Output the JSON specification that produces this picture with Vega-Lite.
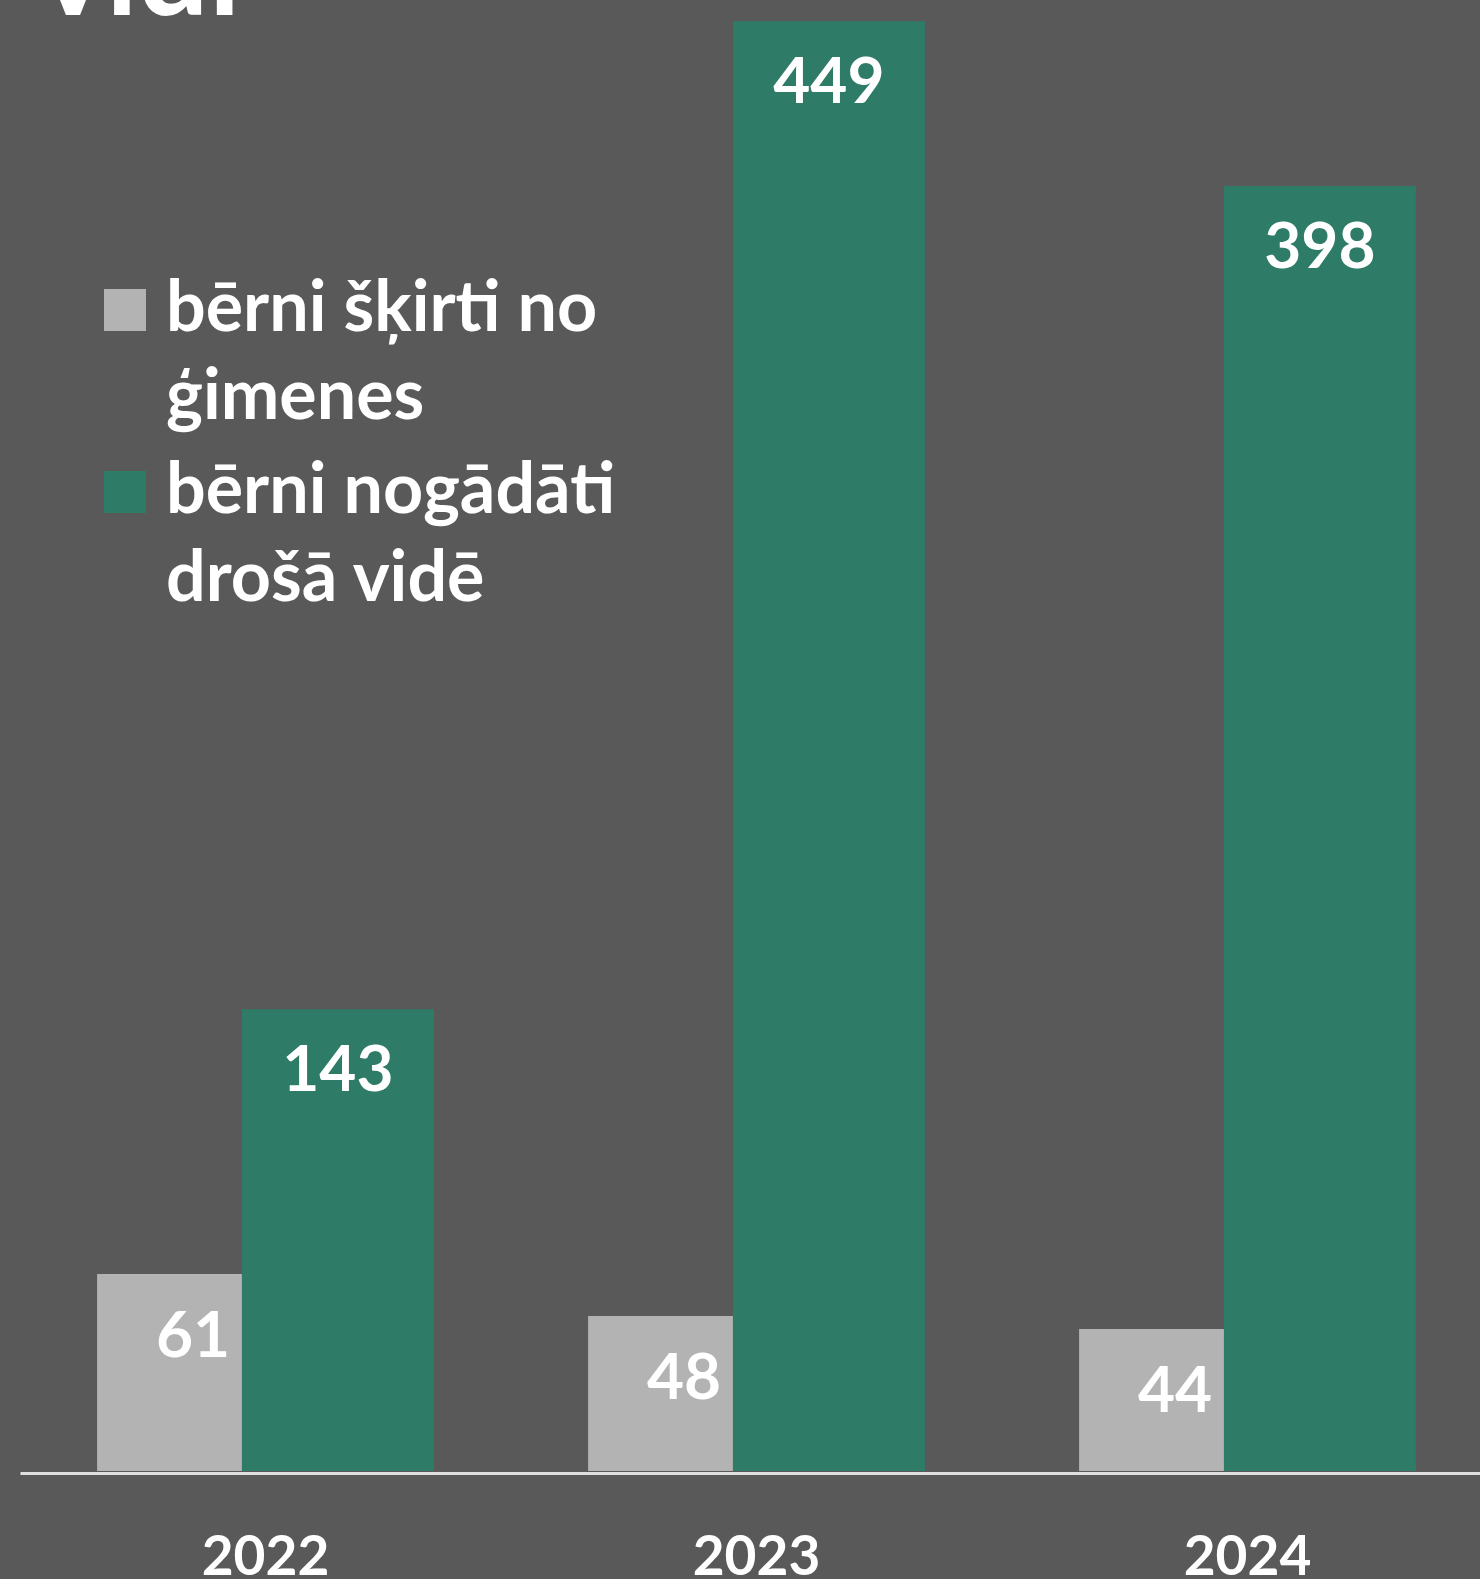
{
  "$schema": "https://vega.github.io/schema/vega-lite/v6.json",
  "width": 1460,
  "height": 1471,
  "autosize": {"type": "none"},
  "padding": {"left": 20, "top": 0, "right": 0, "bottom": 108},
  "background": "#595959",
  "view": {"stroke": null},
  "title": {
    "text": "vidi",
    "anchor": "start",
    "frame": "group",
    "orient": "top",
    "offset": 0,
    "dy": 140,
    "dx": 20,
    "baseline": "alphabetic",
    "font": "Lato",
    "fontWeight": "bold",
    "fontSize": 125,
    "color": "#ffffff"
  },
  "data": {
    "values": [
      {"year": "2022", "series": "bērni šķirti no ģimenes", "value": 61},
      {"year": "2023", "series": "bērni šķirti no ģimenes", "value": 48},
      {"year": "2024", "series": "bērni šķirti no ģimenes", "value": 44},
      {"year": "2022", "series": "bērni nogādāti drošā vidē", "value": 143},
      {"year": "2023", "series": "bērni nogādāti drošā vidē", "value": 449},
      {"year": "2024", "series": "bērni nogādāti drošā vidē", "value": 398}
    ]
  },
  "encoding": {
    "x": {
      "field": "year",
      "type": "nominal",
      "scale": {"range": [0, 1473], "paddingInner": 0, "paddingOuter": 0},
      "axis": {
        "title": null,
        "domainColor": "#e0e0e0",
        "domainWidth": 3,
        "ticks": false,
        "grid": false,
        "labelFont": "Lato",
        "labelFontWeight": "bold",
        "labelFontSize": 55,
        "labelColor": "#ffffff",
        "labelPadding": 101,
        "labelBaseline": "alphabetic",
        "labelAngle": 0,
        "offset": 2,
        "zindex": 1
      }
    },
    "y": {
      "field": "value",
      "type": "quantitative",
      "scale": {"domain": [0, 455.6], "nice": false, "zero": true},
      "axis": null
    }
  },
  "layer": [
    {
      "transform": [{"filter": "datum.series == 'bērni šķirti no ģimenes'"}],
      "mark": {"type": "bar", "width": 192, "xOffset": -72.4},
      "encoding": {
        "color": {
          "field": "series",
          "type": "nominal",
          "scale": {
            "domain": ["bērni šķirti no ģimenes", "bērni nogādāti drošā vidē"],
            "range": ["#b3b3b3", "#2e7b67"]
          },
          "legend": {
            "orient": "none",
            "legendX": 70,
            "legendY": 275,
            "title": null,
            "padding": 0,
            "symbolType": "square",
            "symbolSize": 1764,
            "symbolStrokeWidth": 0,
            "symbolOpacity": 1,
            "labelFont": "Lato",
            "labelFontWeight": "bold",
            "labelFontSize": 70,
            "labelColor": "#ffffff",
            "labelOffset": 6,
            "labelLimit": 2000,
            "labelBaseline": "alphabetic",
            "rowPadding": 24,
            "labelExpr": "datum.label == 'bērni šķirti no ģimenes' ? ['bērni šķirti no', 'ģimenes'] : ['bērni nogādāti', 'drošā vidē']",
            "encode": {"labels": {"update": {"dy": {"value": 21}, "lineHeight": {"value": 88}}}}
          }
        }
      }
    },
    {
      "transform": [{"filter": "datum.series == 'bērni nogādāti drošā vidē'"}],
      "mark": {"type": "bar", "width": 192, "xOffset": 72.4},
      "encoding": {
        "color": {
          "field": "series",
          "type": "nominal",
          "scale": {
            "domain": ["bērni šķirti no ģimenes", "bērni nogādāti drošā vidē"],
            "range": ["#b3b3b3", "#2e7b67"]
          },
          "legend": {
            "orient": "none",
            "legendX": 70,
            "legendY": 275,
            "title": null,
            "padding": 0,
            "symbolType": "square",
            "symbolSize": 1764,
            "symbolStrokeWidth": 0,
            "symbolOpacity": 1,
            "labelFont": "Lato",
            "labelFontWeight": "bold",
            "labelFontSize": 70,
            "labelColor": "#ffffff",
            "labelOffset": 6,
            "labelLimit": 2000,
            "labelBaseline": "alphabetic",
            "rowPadding": 24,
            "labelExpr": "datum.label == 'bērni šķirti no ģimenes' ? ['bērni šķirti no', 'ģimenes'] : ['bērni nogādāti', 'drošā vidē']",
            "encode": {"labels": {"update": {"dy": {"value": 21}, "lineHeight": {"value": 88}}}}
          }
        }
      }
    },
    {
      "transform": [{"filter": "datum.series == 'bērni šķirti no ģimenes'"}],
      "mark": {"type": "text", "xOffset": -72.4, "dy": 83, "baseline": "alphabetic", "align": "center", "font": "Lato", "fontWeight": "bold", "fontSize": 64, "color": "#ffffff"},
      "encoding": {"text": {"field": "value", "type": "quantitative"}}
    },
    {
      "transform": [{"filter": "datum.series == 'bērni nogādāti drošā vidē'"}],
      "mark": {"type": "text", "xOffset": 72.4, "dy": 82, "baseline": "alphabetic", "align": "center", "font": "Lato", "fontWeight": "bold", "fontSize": 64, "color": "#ffffff"},
      "encoding": {"text": {"field": "value", "type": "quantitative"}}
    }
  ]
}
